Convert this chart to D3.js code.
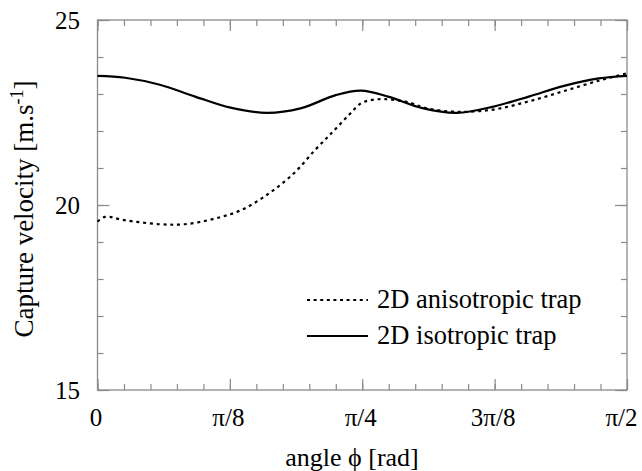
<!DOCTYPE html>
<html>
<head>
<meta charset="utf-8">
<script src="https://cdn.jsdelivr.net/npm/d3@7/dist/d3.min.js"></script>
</head>
<body style="margin:0">
<svg id="chart" width="642" height="471" font-family="'Liberation Serif'" style="font-family:'Liberation Serif'"></svg>
<script>
// ---- data (angle in degrees, velocity in m/s) ----
const isoAngles = [0, 4.7, 10.6, 16.6, 22.6, 28.8, 34.5, 40.5, 44.8, 49.4, 55.4, 61.1, 67.3, 73.3, 79.3, 85.2, 90];
const isoValues = [23.49, 23.44, 23.25, 22.93, 22.63, 22.49, 22.61, 22.97, 23.09, 22.93, 22.61, 22.49, 22.66, 22.93, 23.22, 23.42, 23.49];

const anisoAngles = [0, 1.3, 4.6, 10.6, 14.8, 19.6, 24.4, 29.2, 33.4, 37.0, 40.0, 42.7, 44.8, 46.6, 48.9, 52.5, 56.0, 61.1, 67.3, 73.3, 79.3, 85.2, 90];
const anisoValues = [19.55, 19.68, 19.59, 19.48, 19.48, 19.62, 19.86, 20.32, 20.86, 21.49, 21.98, 22.43, 22.75, 22.84, 22.86, 22.79, 22.61, 22.52, 22.58, 22.80, 23.08, 23.36, 23.56];

const xTickValues = [0, 22.5, 45, 67.5, 90];
const xTickLabels = ["0", "\u03C0/8", "\u03C0/4", "3\u03C0/8", "\u03C0/2"];
const yTickValues = [15, 20, 25];
const seriesNames = ["2D anisotropic trap", "2D isotropic trap"];
const xTitle = "angle \u03D5  [rad]";
const yTitle = "Capture velocity [m.s";

// ---- layout ----
const L = 97.5, R = 627, T = 20, B = 390;
const FONT = "'Liberation Serif'";
const svg = d3.select("#chart");
const x = d3.scaleLinear().domain([0, 90]).range([L, R]);
const y = d3.scaleLinear().domain([15, 25]).range([B, T]);

const axisColor = "#8a8a8a";
const tickFont = 25;
const legendFont = 26.5;

const xMinor = d3.range(0, 90.001, 4.5);
const yMinor = d3.range(15, 25.001, 1);

function setFont(sel, size) {
  sel.attr("font-family", FONT).style("font-family", FONT)
     .attr("font-size", size).style("font-size", size + "px");
}

function styleAxis(g) {
  g.attr("font-family", FONT).attr("font-size", tickFont);
  g.select(".domain").remove();
  g.selectAll(".tick line").attr("stroke", axisColor).attr("stroke-width", 1.2);
  g.selectAll("text").call(setFont, tickFont).attr("fill", "#000");
}

// minor ticks
svg.append("g").attr("transform", `translate(0,${B})`)
  .call(d3.axisBottom(x).tickValues(xMinor).tickSize(-6).tickFormat(""))
  .call(styleAxis);
svg.append("g").attr("transform", `translate(0,${T})`)
  .call(d3.axisTop(x).tickValues(xMinor).tickSize(-6).tickFormat(""))
  .call(styleAxis);
svg.append("g").attr("transform", `translate(${L},0)`)
  .call(d3.axisLeft(y).tickValues(yMinor).tickSize(-6).tickFormat(""))
  .call(styleAxis);
svg.append("g").attr("transform", `translate(${R},0)`)
  .call(d3.axisRight(y).tickValues(yMinor).tickSize(-6).tickFormat(""))
  .call(styleAxis);

// major ticks
const xAxisG = svg.append("g").attr("transform", `translate(0,${B})`)
  .call(d3.axisBottom(x).tickValues(xTickValues).tickSize(-11).tickPadding(18)
    .tickFormat((d, i) => xTickLabels[i]))
  .call(styleAxis);
xAxisG.selectAll(".tick text").attr("dx", (d, i) => i === xTickValues.length - 1 ? -6 : -2);
svg.append("g").attr("transform", `translate(0,${T})`)
  .call(d3.axisTop(x).tickValues(xTickValues).tickSize(-11).tickFormat(""))
  .call(styleAxis);
svg.append("g").attr("transform", `translate(${L},0)`)
  .call(d3.axisLeft(y).tickValues(yTickValues).tickSize(-12).tickPadding(17.5)
    .tickFormat(d3.format("d")))
  .call(styleAxis);
svg.append("g").attr("transform", `translate(${R},0)`)
  .call(d3.axisRight(y).tickValues(yTickValues).tickSize(-12).tickFormat(""))
  .call(styleAxis);

// frame
svg.append("rect").attr("x", L).attr("y", T).attr("width", R - L).attr("height", B - T)
  .attr("fill", "none").attr("stroke", axisColor).attr("stroke-width", 1.3);

// curves
const line = d3.line().x(d => x(d[0])).y(d => y(d[1])).curve(d3.curveCatmullRom.alpha(0.5));
const anisoData = anisoAngles.map((a, i) => [a, anisoValues[i]]);
const isoData = isoAngles.map((a, i) => [a, isoValues[i]]);

svg.append("path").datum(anisoData).attr("d", line)
  .attr("fill", "none").attr("stroke", "#000").attr("stroke-width", 2.2)
  .attr("stroke-dasharray", "3,3.8");
svg.append("path").datum(isoData).attr("d", line)
  .attr("fill", "none").attr("stroke", "#000").attr("stroke-width", 2.2);

// legend
const legend = svg.append("g");
const legendRows = [
  { name: seriesNames[0], dash: "3,3.6", ly: 300 },
  { name: seriesNames[1], dash: null, ly: 336 }
];
legendRows.forEach(r => {
  legend.append("line").attr("x1", 307).attr("x2", 368).attr("y1", r.ly).attr("y2", r.ly)
    .attr("stroke", "#000").attr("stroke-width", 2)
    .attr("stroke-dasharray", r.dash);
  legend.append("text").attr("x", 377).attr("y", r.ly + 8)
    .call(setFont, legendFont).text(r.name);
});

// axis titles
svg.append("text").attr("x", 352).attr("y", 466).attr("text-anchor", "middle")
  .call(setFont, 26).text(xTitle);

const yt = svg.append("text").attr("transform", "translate(33,209) rotate(-90)")
  .attr("text-anchor", "middle").call(setFont, 27);
yt.append("tspan").text(yTitle);
yt.append("tspan").attr("dy", -10).attr("font-size", 18).style("font-size", "18px").text("-1");
yt.append("tspan").attr("dy", 10).text("]");
</script>
</body>
</html>
